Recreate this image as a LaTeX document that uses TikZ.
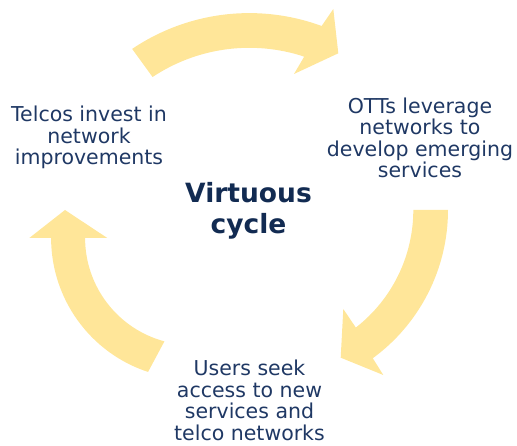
\documentclass[tikz,border=0pt]{standalone}
\usepackage{fontspec}
\setmainfont{DejaVu Sans}
\usetikzlibrary{calc}
\definecolor{arrowyellow}{HTML}{FFE699}
\definecolor{textnavy}{HTML}{1F3864}
\definecolor{boldnavy}{HTML}{122B52}
\tikzset{
  cyclearrow/.style={fill=arrowyellow, draw=none},
  steptext/.style={text=textnavy, align=center, anchor=base, inner sep=0pt,
    font=\fontsize{20.5}{21.6}\selectfont},
  centertext/.style={text=boldnavy, align=center, anchor=base, inner sep=0pt,
    font=\fontsize{26.5}{32}\selectfont\bfseries}
}
\begin{document}
\begin{tikzpicture}[x=1pt,y=1pt]
\useasboundingbox (0,0) rectangle (517,445);
% centres of the three curved arrows
\coordinate (c1) at (249.3,222.4);
\coordinate (c2) at (264.3,235);
\coordinate (c3) at (192.1,207);
% top arrow
\fill[cyclearrow] ($(c1)+(124:209.5)$) arc[start angle=124, end angle=69.8, radius=209.5]
  -- (333.3,436) -- (338.3,391.7) -- (294,371)
  -- ($(c1)+(71.7:174.8)$) arc[start angle=71.7, end angle=123.6, radius=174.8] -- cycle;
% right arrow
\fill[cyclearrow] ($(c2)+(0:183.7)$) arc[start angle=0, end angle=-53.8, radius=183.7]
  -- (383.3,70) -- (340.7,87.3) -- (343.3,136)
  -- ($(c2)+(-52.1:149)$) arc[start angle=-52.1, end angle=0, radius=149] -- cycle;
% left arrow
\fill[cyclearrow] ($(c3)+(251.8:141)$) arc[start angle=251.8, end angle=180, radius=141]
  -- (29.3,207) -- (65,235) -- (107.3,207)
  -- ($(c3)+(180:107)$) arc[start angle=180, end angle=255, radius=107] -- cycle;
% texts (anchor = baseline of the last line)
\node[steptext] (telcos) at (89,280) {Telcos invest in\\network\\improvements};
\node[steptext] (otts) at (420,267) {OTTs leverage\\networks to\\develop emerging\\services};
\node[steptext] (users) at (249.5,4.5) {Users seek\\access to new\\services and\\telco networks};
\node[centertext] (virtuous) at (248.5,211) {Virtuous\\cycle};
\end{tikzpicture}
\end{document}
